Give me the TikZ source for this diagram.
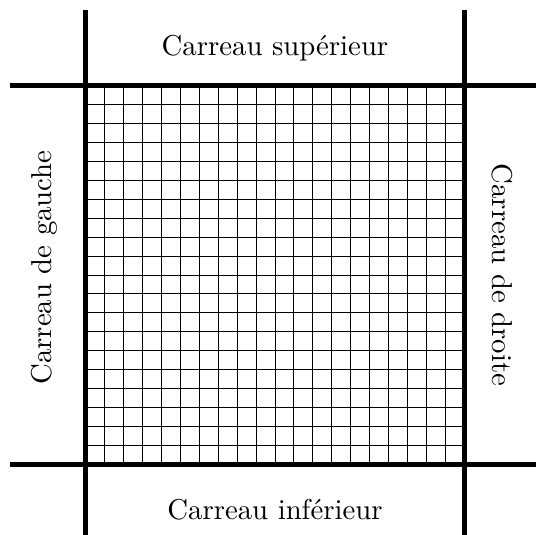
\documentclass[tikz,border=0pt]{standalone}
\usepackage{tikz}
\usetikzlibrary{positioning}

\begin{document}
\begin{tikzpicture}[
  label/.style={font=\fontsize{10.8}{13}\selectfont,inner sep=0pt},
  border/.style={line width=1.9pt,draw=black},
  fine/.style={line width=0.35pt,draw=black}
]
\useasboundingbox (-1.13,-0.925) rectangle (5.945,6.13);
% fine mesh of the central tile
\foreach \i in {1,...,19} {
  \draw[fine] (\i*0.25,0) -- (\i*0.25,5);
  \draw[fine] (0,\i*0.25) -- (5,\i*0.25);
}
% tile boundaries
\draw[border] (0,-1) -- (0,6);
\draw[border] (5,-1) -- (5,6);
\draw[border] (-1,0) -- (6,0);
\draw[border] (-1,5) -- (6,5);
% neighbouring tiles
\node[label] (top) at (2.5,5.5) {Carreau supérieur};
\node[label] (bottom) at (2.5,-0.6) {Carreau inférieur};
\node[label,rotate=90] (left) at (-0.55,2.6) {Carreau de gauche};
\node[label,rotate=-90] (right) at (5.5,2.5) {Carreau de droite};
\end{tikzpicture}
\end{document}
